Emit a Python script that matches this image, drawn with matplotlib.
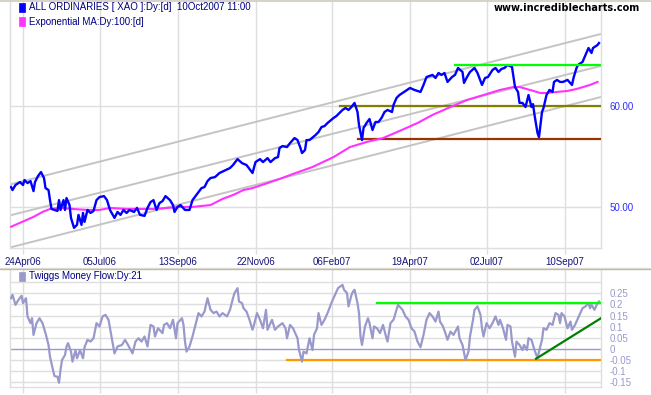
import matplotlib
matplotlib.use("Agg")
import matplotlib.pyplot as plt
from matplotlib.patches import Rectangle
from matplotlib.lines import Line2D
from matplotlib.ticker import FixedLocator, NullLocator, NullFormatter

# ---------------- data ----------------
# x = trading session number (0 = first session shown, ~12 Apr 2006)
date_labels = ['24Apr06', '05Jul06', '13Sep06', '22Nov06', '06Feb07', '19Apr07', '02Jul07', '10Sep07']
date_pos = [8, 59, 111, 163, 214, 266, 317, 369]

price_s = [0, 1, 3, 6, 8, 9, 11, 13, 15, 16, 18, 20, 22, 23, 25, 26, 27, 29, 31, 32, 33, 35, 36, 37, 39, 40,
           42, 44, 45, 47, 48, 49, 51, 53, 55, 57, 59, 62, 64, 66, 69, 71, 73, 75, 77, 79, 82, 84, 86, 89, 91,
           93, 95, 97, 99, 101, 103, 106, 108, 109, 111, 113, 116, 119, 121, 125, 127, 129, 131, 133, 136, 139,
           143, 146, 148, 151, 154, 157, 161, 163, 166, 168, 171, 173, 176, 178, 179, 181, 184, 186, 189, 191,
           193, 194, 196, 197, 199, 203, 205, 207, 209, 211, 215, 217, 221, 223, 225, 227, 229, 231, 232, 234,
           235, 237, 239, 241, 243, 245, 247, 249, 251, 254, 255, 257, 259, 261, 263, 264, 266, 269, 273, 275,
           277, 281, 283, 285, 287, 289, 291, 294, 296, 298, 301, 302, 304, 306, 309, 311, 314, 316, 318, 321,
           323, 325, 327, 329, 331, 334, 336, 338, 339, 341, 343, 345, 347, 348, 349, 351, 352, 354, 355, 357,
           359, 361, 362, 364, 366, 368, 371, 374, 375, 377, 378, 381, 383, 385, 387, 388, 391, 392]
price_v = [51.83, 51.55, 52.02, 52.30, 52.02, 52.49, 52.20, 52.39, 51.45, 52.30, 52.87, 53.25, 52.68, 51.73,
           51.55, 50.62, 49.82, 49.73, 49.64, 50.62, 49.73, 50.62, 49.73, 50.81, 50.17, 49.02, 48.15, 48.41,
           49.29, 48.41, 49.46, 48.67, 49.73, 49.46, 49.64, 50.62, 50.90, 50.99, 50.62, 49.73, 49.02, 49.55,
           49.29, 49.73, 49.46, 49.73, 49.55, 49.91, 49.29, 49.20, 49.91, 50.44, 50.62, 49.73, 50.35, 50.53,
           50.99, 50.62, 50.17, 49.55, 50.00, 50.17, 49.73, 49.73, 50.62, 51.36, 51.73, 51.83, 52.39, 52.68,
           52.77, 53.16, 53.44, 53.64, 53.93, 54.51, 54.12, 53.93, 53.16, 54.22, 54.51, 54.22, 54.61, 54.22,
           54.61, 54.71, 55.61, 55.81, 55.71, 56.11, 56.62, 56.42, 55.61, 55.11, 55.41, 56.42, 56.42, 56.93,
           57.24, 57.76, 57.86, 58.18, 58.71, 58.93, 59.57, 59.78, 59.57, 59.89, 60.33, 59.35, 57.97, 56.42,
           57.65, 58.18, 58.60, 57.45, 58.29, 58.29, 58.71, 59.35, 59.57, 59.35, 60.11, 60.87, 61.20, 61.42,
           61.65, 61.76, 61.98, 61.76, 61.54, 62.32, 63.22, 63.46, 63.11, 63.68, 63.46, 63.68, 62.66, 63.22,
           63.46, 64.26, 63.80, 62.55, 63.22, 63.80, 64.26, 63.68, 62.32, 63.11, 63.22, 64.03, 64.26, 63.80,
           64.15, 64.26, 64.61, 64.37, 62.09, 61.54, 60.33, 60.33, 59.89, 61.20, 59.89, 60.20, 59.04, 57.14,
           56.73, 59.35, 59.78, 61.20, 61.76, 61.54, 62.66, 62.89, 62.66, 62.66, 62.89, 62.32, 63.11, 64.26,
           64.61, 64.96, 65.78, 66.62, 66.02, 66.62, 66.98, 67.22]

ema_s = [0, 6, 15, 21, 26, 33, 41, 51, 59, 66, 77, 86, 95, 104, 113, 121, 133, 141, 148, 155, 161, 171, 179,
         188, 201, 215, 226, 237, 248, 259, 271, 281, 293, 304, 315, 326, 335, 339, 346, 353, 357, 364, 371,
         377, 386, 391]
ema_v = [48.24, 48.59, 49.11, 49.55, 49.82, 49.91, 49.82, 49.73, 49.73, 49.91, 49.82, 49.82, 49.82, 49.91,
         50.00, 50.00, 50.17, 50.73, 51.09, 51.55, 51.73, 52.20, 52.59, 53.07, 53.74, 54.71, 55.71, 56.22,
         56.62, 57.35, 58.18, 59.04, 59.89, 60.65, 61.20, 61.76, 62.09, 62.09, 61.76, 61.42, 61.42, 61.54,
         61.65, 61.87, 62.32, 62.66]

# trend channel (session, value) end points
channel_s = [-0.7, 393.3]
channel_upper = [52.07, 68.33]
channel_mid = [49.24, 64.50]
channel_low = [46.47, 60.98]

# support / resistance levels: (start session, level)
level_green = (296, 64.6)
level_olive = (219, 60.0)
level_brown = (231, 56.48)
x_end = 393.3

tmf_s = [0, 1, 3, 5, 7, 8, 10, 11, 13, 14, 15, 17, 19, 21, 23, 25, 26, 28, 29, 31, 32, 33, 34, 36, 37, 38,
         40, 41, 43, 44, 46, 48, 49, 51, 53, 55, 57, 59, 61, 63, 65, 67, 69, 71, 74, 76, 78, 81, 83, 85, 87,
         89, 91, 93, 95, 96, 98, 101, 102, 104, 106, 108, 110, 111, 114, 115, 116, 117, 119, 121, 123, 125,
         127, 129, 131, 133, 135, 137, 139, 141, 144, 146, 148, 149, 151, 152, 154, 155, 157, 159, 161, 162,
         164, 166, 168, 170, 171, 174, 176, 178, 181, 183, 184, 186, 188, 191, 192, 194, 195, 197, 199, 201,
         202, 204, 205, 207, 209, 211, 214, 216, 218, 221, 222, 224, 225, 227, 228, 229, 231, 232, 233, 234,
         236, 238, 239, 241, 242, 244, 246, 248, 250, 251, 253, 255, 257, 258, 260, 261, 263, 265, 267, 269,
         271, 273, 275, 277, 279, 281, 283, 285, 286, 288, 290, 291, 293, 295, 298, 299, 301, 303, 305, 306,
         308, 309, 311, 313, 314, 315, 317, 319, 321, 323, 325, 326, 328, 330, 331, 333, 334, 336, 337, 339,
         341, 342, 344, 345, 347, 349, 351, 352, 354, 355, 357, 359, 361, 363, 365, 366, 367, 369, 371, 373,
         374, 376, 378, 379, 381, 383, 385, 386, 387, 389, 391, 392]
tmf_v = [0.228, 0.243, 0.198, 0.221, 0.239, 0.206, 0.228, 0.146, 0.116, 0.138, 0.063, 0.116, 0.138, 0.116,
         0.071, 0.018, -0.035, -0.095, -0.122, -0.125, -0.152, -0.095, -0.050, -0.027, 0.011, 0.026, -0.012,
         -0.057, -0.005, -0.042, -0.005, -0.042, 0.008, 0.041, 0.033, 0.048, 0.116, 0.101, 0.146, 0.153,
         0.131, 0.056, -0.020, 0.011, 0.018, 0.041, 0.018, -0.020, 0.033, 0.048, 0.033, 0.056, 0.011, 0.108,
         0.101, 0.056, 0.093, 0.071, 0.108, 0.116, 0.093, 0.131, 0.048, 0.116, 0.138, 0.108, 0.033, -0.012,
         0.011, 0.056, 0.108, 0.161, 0.146, 0.168, 0.228, 0.176, 0.161, 0.168, 0.146, 0.161, 0.146, 0.176,
         0.228, 0.251, 0.273, 0.213, 0.206, 0.183, 0.168, 0.131, 0.086, 0.108, 0.161, 0.131, 0.093, 0.176,
         0.086, 0.131, 0.086, 0.101, 0.116, 0.093, 0.048, 0.108, 0.093, 0.048, -0.005, -0.057, -0.012,
         -0.020, 0.048, -0.005, 0.063, 0.093, 0.161, 0.108, 0.131, 0.161, 0.213, 0.243, 0.273, 0.288, 0.266,
         0.251, 0.191, 0.243, 0.258, 0.266, 0.206, 0.161, 0.056, 0.018, 0.101, 0.138, 0.116, 0.048, 0.101,
         0.093, 0.071, 0.108, 0.056, 0.033, 0.116, 0.131, 0.176, 0.198, 0.183, 0.176, 0.146, 0.131, 0.093,
         0.078, 0.033, 0.008, 0.063, 0.131, 0.161, 0.146, 0.123, 0.168, 0.123, 0.101, 0.063, 0.041, 0.078,
         0.063, 0.101, 0.048, 0.018, -0.050, -0.012, 0.056, 0.131, 0.176, 0.191, 0.153, 0.093, 0.056, 0.116,
         0.093, 0.116, 0.146, 0.108, 0.131, 0.093, 0.041, 0.108, 0.101, 0.033, -0.035, 0.033, 0.018, -0.005,
         0.018, -0.005, 0.048, 0.041, -0.005, -0.042, -0.012, 0.041, 0.093, 0.086, 0.116, 0.108, 0.161,
         0.153, 0.116, 0.161, 0.146, 0.093, 0.123, 0.086, 0.108, 0.138, 0.153, 0.183, 0.191, 0.206, 0.183,
         0.198, 0.176, 0.206, 0.213]

tmf_green = (244, 0.206)
tmf_orange = (184, -0.048)
tmf_trend_s = [350, 393.3]
tmf_trend_v = [-0.044, 0.138]

price_ticks = [50, 60]
price_ticklabels = ['50.00', '60.00']
tmf_ticks = [0.25, 0.2, 0.15, 0.1, 0.05, 0, -0.05, -0.1, -0.15]
tmf_ticklabels = ['0.25', '0.2', '0.15', '0.1', '0.05', '0', '-0.05', '-0.1', '-0.15']
tmf_grid = [0.30, 0.25, 0.2, 0.15, 0.1, 0.05, -0.05, -0.1, -0.15]

assert len(price_s) == len(price_v)
assert len(ema_s) == len(ema_v)
assert len(tmf_s) == len(tmf_v)

# ---------------- figure ----------------
W, H = 651, 395
fig = plt.figure(figsize=(W / 100, H / 100), dpi=100, facecolor='white')
FONT = 'Liberation Sans'
GRID = '#DEDEDE'


def fx(px):
    return px / W


def fy(py):
    return 1 - py / H


ax = fig.add_axes([fx(10), fy(247.5), fx(601) - fx(10), fy(1) - fy(247.5)])
ax2 = fig.add_axes([fx(10), fy(387), fx(601) - fx(10), fy(270) - fy(387)])

# ---- top panel ----
ax.set_yscale('log')
ax.set_xlim(-0.67, 393.33)
ax.set_ylim(46.47, 72.52)
ax.plot(channel_s, channel_upper, color='#C4C4C4', lw=1.4, zorder=2)
ax.plot(channel_s, channel_mid, color='#C4C4C4', lw=1.4, zorder=2)
ax.plot(channel_s, channel_low, color='#C4C4C4', lw=1.4, zorder=2)
ax.plot([level_olive[0], x_end], [level_olive[1]] * 2, color='#808000', lw=1.6, zorder=3)
ax.plot([level_brown[0], x_end], [level_brown[1]] * 2, color='#993300', lw=1.6, zorder=3)
ax.plot(ema_s, ema_v, color='#FF33FF', lw=1.5, zorder=4)
ax.plot(price_s, price_v, color='#0000FF', lw=1.7, zorder=5)
ax.plot([level_green[0], x_end], [level_green[1]] * 2, color='#00FF00', lw=1.6, zorder=6)

ax.yaxis.set_major_locator(FixedLocator(price_ticks))
ax.yaxis.set_minor_locator(NullLocator())
ax.yaxis.set_minor_formatter(NullFormatter())
ax.set_yticklabels(price_ticklabels)
ax.yaxis.tick_right()
ax.tick_params(axis='y', which='both', length=0, pad=6, labelsize=7, labelcolor='#2E2EFF')
for lab in ax.get_yticklabels():
    lab.set_fontfamily(FONT)
ax.set_xticks(date_pos)
ax.set_xticklabels(date_labels)
ax.tick_params(axis='x', length=4, color=GRID, width=1, pad=3, labelsize=7, labelcolor='#14147A')
for lab in ax.get_xticklabels():
    lab.set_fontfamily(FONT)
ax.grid(True, color=GRID, lw=1)
ax.set_axisbelow(True)
for sp in ax.spines.values():
    sp.set_color(GRID)
    sp.set_linewidth(1)
ax.spines['top'].set_visible(False)

# ---- bottom panel ----
ax2.set_xlim(-0.67, 393.33)
ax2.set_ylim(-0.171, 0.3547)
for g in tmf_grid:
    ax2.axhline(g, color=GRID, lw=1, zorder=0)
ax2.axhline(0, color='#9999CC', lw=1, zorder=1)
ax2.plot([tmf_orange[0], x_end], [tmf_orange[1]] * 2, color='#FF9900', lw=1.6, zorder=3)
ax2.plot(tmf_s, tmf_v, color='#9999CC', lw=1.6, zorder=4)
ax2.plot([tmf_green[0], x_end], [tmf_green[1]] * 2, color='#00FF00', lw=1.6, zorder=5)
ax2.plot(tmf_trend_s, tmf_trend_v, color='#008000', lw=1.6, zorder=5)
ax2.set_yticks(tmf_ticks)
ax2.set_yticklabels(tmf_ticklabels)
ax2.yaxis.tick_right()
ax2.tick_params(axis='y', length=0, pad=6, labelsize=7, labelcolor='#9999CC')
for lab in ax2.get_yticklabels():
    lab.set_fontfamily(FONT)
ax2.set_xticks(date_pos)
ax2.set_xticklabels([])
ax2.tick_params(axis='x', length=4, color=GRID, width=1)
ax2.xaxis.grid(True, color=GRID, lw=1)
ax2.set_axisbelow(True)
for sp in ax2.spines.values():
    sp.set_color(GRID)
    sp.set_linewidth(1)
ax2.spines['top'].set_visible(False)

# ---- legends / decorations ----
fig.add_artist(Line2D([0, 1], [fy(0.8), fy(0.8)], color='#CFCBC0', lw=1.2, transform=fig.transFigure))
fig.add_artist(Line2D([0, 1], [fy(268.2), fy(268.2)], color='#E4E1D8', lw=1.0, transform=fig.transFigure))
fig.add_artist(Line2D([0, 1], [fy(269.3), fy(269.3)], color='#BDB9AC', lw=1.0, transform=fig.transFigure))


def legend_item(px, py, color, text):
    fig.add_artist(Rectangle((fx(19), fy(py + 4.5)), fx(6), (fy(py - 4.5) - fy(py + 4.5)),
                             transform=fig.transFigure, facecolor=color, edgecolor=color, lw=0.5))
    fig.text(fx(px), fy(py), text, color='#000080', fontsize=7, family=FONT, va='center', ha='left')


legend_item(29, 7.3, '#0000FF', 'ALL ORDINARIES [ XAO ]:Dy:[d]  10Oct2007 11:00')
legend_item(29, 21.6, '#FF33FF', 'Exponential MA:Dy:100:[d]')
legend_item(29, 276.3, '#9999CC', 'Twiggs Money Flow:Dy:21')
fig.text(fx(640), fy(8), 'www.incrediblecharts.com', color='black', fontsize=7.0, fontweight='bold',
         family='DejaVu Sans', va='center', ha='right')

fig.savefig('out.png', dpi=100, facecolor='white')
